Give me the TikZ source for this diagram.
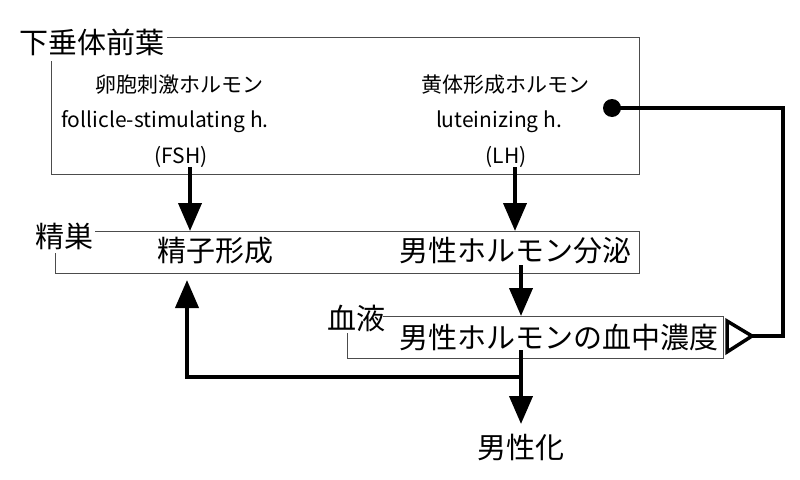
\documentclass[tikz,border=0pt]{standalone}
\usepackage{fontspec}
\newfontfamily\jp{Noto Sans CJK JP}
\usetikzlibrary{arrows.meta}
\begin{document}
\begin{tikzpicture}[x=1pt,y=-1pt,
  frame/.style={draw=black!70, line width=1pt},
  big/.style={font=\jp\fontsize{29}{31}\selectfont, inner sep=0pt},
  small/.style={font=\jp\fontsize{21}{23}\selectfont, inner sep=0pt},
  flow/.style={line width=4pt, -{Triangle[length=28pt,width=23pt]}},
  fb/.style={line width=4pt, line join=miter}]
\useasboundingbox (0,0) rectangle (800,479);
% pituitary frame
\draw[frame] (167,37) -- (639,37) -- (639,174) -- (51,174) -- (51,61);
\node[big] (pit) at (92,42) {下垂体前葉};
\node[small] (fshj) at (179,85) {卵胞刺激ホルモン};
\node[small] (fshe) at (165,122) {follicle-stimulating h.};
\node[small] (fsh) at (181,157) {(FSH)};
\node[small] (lhj) at (505,85) {黄体形成ホルモン};
\node[small] (lhe) at (499,122) {luteinizing h.};
\node[small] (lh) at (506,157) {(LH)};
\node[circle, fill=black, inner sep=0pt, minimum size=18pt] (dot) at (612,108) {};
% testis frame
\draw[frame] (95,231) -- (639,231) -- (639,273) -- (55,273) -- (55,253);
\node[big] (testis) at (64,236) {精巣};
\node[big] (sperm) at (215,251) {精子形成};
\node[big] (secr) at (515,251) {男性ホルモン分泌};
% blood frame
\draw[frame] (383,316) -- (723,316) -- (723,358) -- (347,358) -- (347,333);
\node[big] (blood) at (356,318) {血液};
\node[big] (conc) at (559,337) {男性ホルモンの血中濃度};
\node[big] (masc) at (521,447) {男性化};
% coordinates
\coordinate (fshout) at (190,167);
\coordinate (fshin) at (190,231);
\coordinate (lhout) at (515,167);
\coordinate (lhin) at (515,231);
\coordinate (secout) at (521,265);
\coordinate (secin) at (521,316);
\coordinate (concout) at (521,350);
\coordinate (branch) at (521,377);
\coordinate (spermin) at (187,280);
\coordinate (mascin) at (521,424);
\coordinate (corner) at (783,108);
\coordinate (triapex) at (752,336);
% arrows
\draw[flow] (fshout) -- (fshin);
\draw[flow] (lhout) -- (lhin);
\draw[flow] (secout) -- (secin);
\draw[flow] (concout) -- (mascin);
\draw[flow] (branch) -| (spermin);
% feedback
\draw[fb] (dot.center) -- (corner) |- (triapex);
\draw[line width=3.5pt, line join=miter] (727,321) -- (triapex) -- (727,352) -- cycle;
\end{tikzpicture}
\end{document}
